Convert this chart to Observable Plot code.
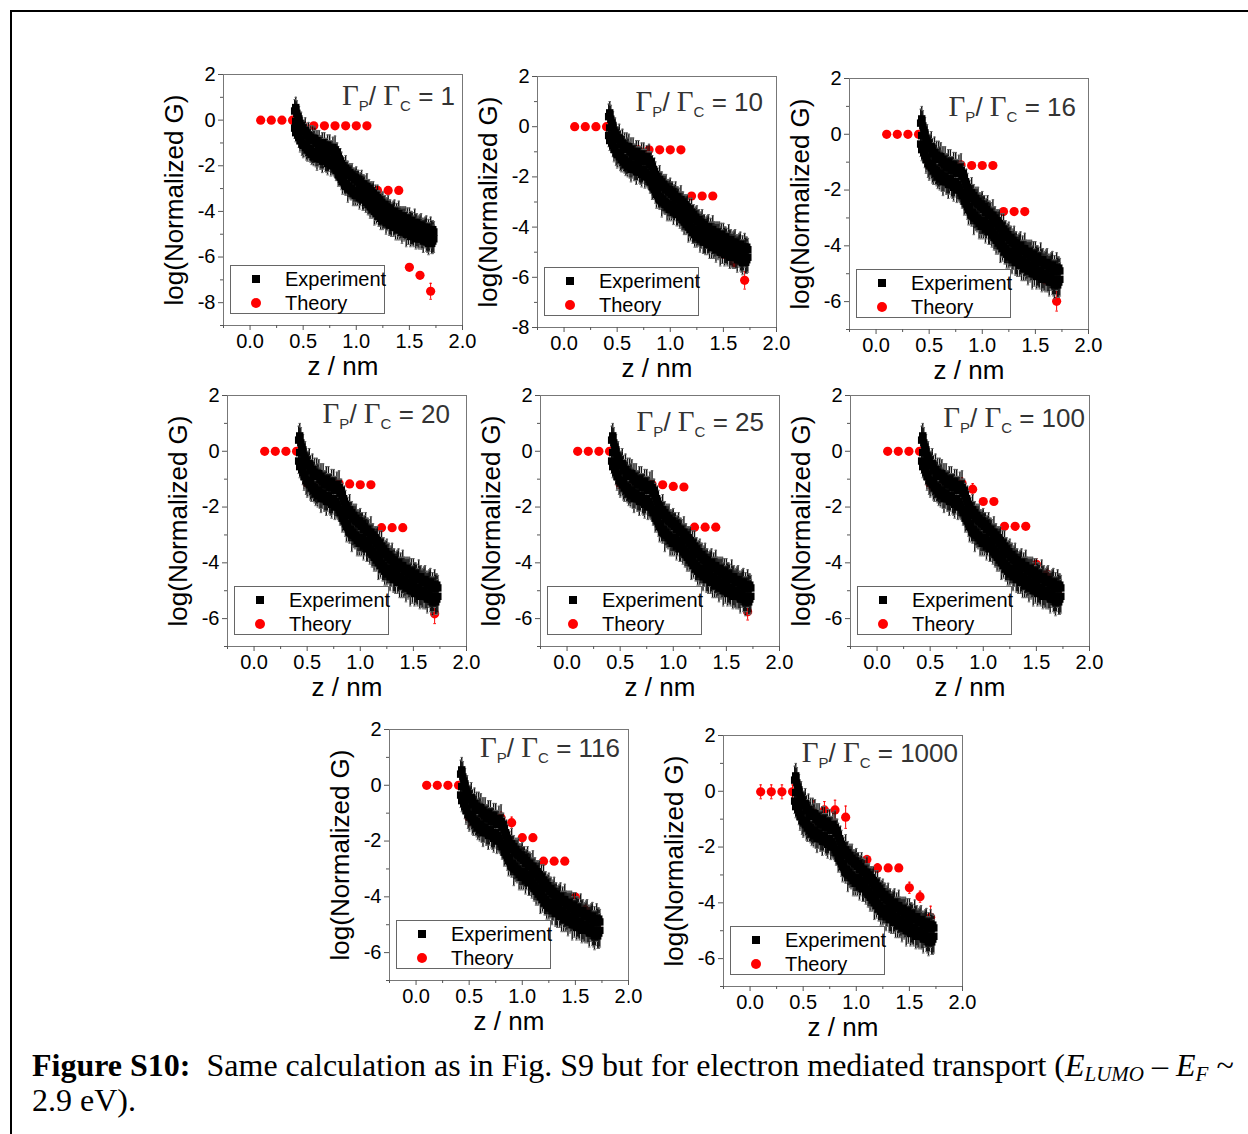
<!DOCTYPE html>
<html><head><meta charset="utf-8">
<script src="https://cdn.jsdelivr.net/npm/d3@7"></script>
<script src="https://cdn.jsdelivr.net/npm/@observablehq/plot@0.6"></script>
<style>
body{margin:0;background:#fff;}
#page{position:relative;width:1248px;height:1134px;overflow:hidden;font-family:"Liberation Sans",Arial,sans-serif;background:#fff;}
#frame{position:absolute;left:10px;top:10px;width:1300px;height:1200px;border-top:2px solid #000;border-left:2px solid #000;}
.panel{position:absolute;}
.panel svg{overflow:visible;}
.panel g[aria-label="y-axis label"], .panel g[aria-label="x-axis label"]{font-size:26px;}
.ann{position:absolute;white-space:nowrap;color:#333;font-size:26px;line-height:1;}
.ann .g{font-family:"Liberation Serif","Times New Roman",serif;font-size:29px;}
.ann .s{font-size:15px;position:relative;top:6px;}
.legend{position:absolute;width:153px;height:47px;border:1px solid #666;background:#fff;font-size:20px;color:#000;}
.legend .row{position:absolute;left:54px;line-height:1;}
.legend .sq{position:absolute;width:8px;height:8px;background:#000;}
.legend .ci{position:absolute;width:10px;height:10px;border-radius:50%;background:#f00;}
.caption{position:absolute;left:32px;top:1048px;font-family:"Liberation Serif","Times New Roman",serif;font-size:32px;line-height:35px;color:#000;white-space:nowrap;}
.caption sub{font-size:21px;vertical-align:-5px;line-height:0;}
</style>
</head><body>
<div id="page"><div id="frame"></div></div>
<script>
// ---------- data ----------
const ratios = [1, 10, 16, 20, 25, 100, 116, 1000];

const theoryZ = [0.1,0.2,0.3,0.4,0.5,0.6,0.7,0.8,0.9,1.0,1.1,1.2,1.3,1.4,1.5,1.6,1.7];

const theoryR1    = [0,0,0,0,-0.25,-0.25,-0.25,-0.25,-0.25,-0.25,-0.25,-3.08,-3.08,-3.08,-6.45,-6.80,-7.50];
const theoryR10   = [0,0,0,0,-0.92,-0.92,-0.92,-0.92,-0.92,-0.92,-0.92,-2.76,-2.76,-2.76,-5.07,-5.42,-6.12];
const theoryR16   = [0,0,0,0,-1.10,-1.10,-1.10,-1.10,-1.12,-1.12,-1.12,-2.77,-2.77,-2.77,-4.88,-5.24,-5.99];
const theoryR20   = [0,0,0,0,-1.15,-1.15,-1.15,-1.15,-1.17,-1.20,-1.20,-2.74,-2.74,-2.74,-4.73,-5.06,-5.83];
const theoryR25   = [0,0,0,0,-1.19,-1.19,-1.19,-1.19,-1.20,-1.26,-1.28,-2.72,-2.72,-2.72,-4.63,-4.99,-5.75];
const theoryR100  = [0,0,0,0,-1.18,-1.15,-1.15,-1.15,-1.36,-1.80,-1.80,-2.69,-2.69,-2.69,-4.05,-4.40,-5.11];
const theoryR116  = [0,0,0,0,-1.16,-1.16,-1.16,-1.16,-1.34,-1.88,-1.88,-2.72,-2.72,-2.72,-4.01,-4.45,-5.11];
const theoryR1000 = [-0.02,-0.02,-0.02,-0.02,-0.67,-0.79,-0.67,-0.67,-0.93,-2.49,-2.45,-2.75,-2.75,-2.75,-3.46,-3.78,-4.52];

const theoryErrR1    = [0,0,0,0,0,0,0,0,0,0,0,0,0,0,0,0,0.35];
const theoryErrR10   = [0,0,0,0,0,0,0,0,0,0,0,0,0,0,0.15,0.15,0.35];
const theoryErrR16   = [0,0,0,0,0,0,0,0,0,0,0,0,0,0,0.15,0.15,0.35];
const theoryErrR20   = [0,0,0,0,0.1,0.1,0.1,0.1,0,0,0,0.1,0,0,0.15,0.15,0.35];
const theoryErrR25   = [0,0,0,0,0.1,0.1,0.1,0.1,0,0,0,0,0,0,0.15,0.15,0.3];
const theoryErrR100  = [0,0,0,0,0.2,0.2,0.2,0.2,0.2,0,0,0,0,0,0.2,0.2,0.3];
const theoryErrR116  = [0,0,0,0,0.3,0.2,0.2,0.2,0.2,0,0,0.1,0,0,0.15,0.15,0.3];
const theoryErrR1000 = [0.25,0.25,0.25,0.25,0.4,0.45,0.3,0.35,0.4,0.15,0.15,0.15,0,0,0.2,0.2,0.4];

// experiment: [z (nm), log(normalized G), error]
const experiment = [
[0.42,0.40,0.50],[0.42,-0.35,0.45],[0.43,0.55,0.45],[0.43,-0.05,0.50],[0.43,-0.55,0.40],
[0.44,0.30,0.55],[0.44,-0.45,0.45],[0.45,0.15,0.50],[0.45,-0.65,0.40],[0.46,0.05,0.55],
[0.46,-0.75,0.45],[0.47,-0.15,0.40],[0.47,-0.90,0.50],[0.48,-0.25,0.60],[0.48,-0.85,0.45],
[0.49,-0.35,0.45],[0.49,-1.05,0.50],[0.50,-0.45,0.40],[0.50,-1.10,0.55],[0.51,-0.50,0.50],
[0.51,-1.05,0.45],[0.52,-0.45,0.55],[0.52,-1.20,0.40],[0.53,-0.60,0.45],[0.53,-1.15,0.60],
[0.54,-0.70,0.40],[0.54,-1.30,0.50],[0.55,-0.65,0.55],[0.55,-1.25,0.45],[0.56,-0.80,0.45],
[0.56,-1.40,0.40],[0.57,-0.75,0.50],[0.57,-1.30,0.55],[0.58,-0.90,0.40],[0.58,-1.50,0.45],
[0.59,-0.80,0.55],[0.59,-1.40,0.50],[0.60,-0.90,0.45],[0.60,-1.60,0.40],[0.61,-0.80,0.50],
[0.61,-1.40,0.45],[0.62,-1.00,0.40],[0.62,-1.50,0.55],[0.63,-0.90,0.45],[0.63,-1.70,0.50],
[0.64,-1.10,0.40],[0.64,-1.60,0.45],[0.65,-1.00,0.55],[0.65,-1.50,0.40],[0.66,-1.20,0.50],
[0.66,-1.70,0.45],[0.67,-1.10,0.40],[0.67,-1.60,0.55],[0.68,-1.00,0.45],[0.68,-1.80,0.50],
[0.69,-1.20,0.40],[0.69,-1.70,0.45],[0.70,-1.10,0.55],[0.70,-1.60,0.40],[0.71,-1.30,0.50],
[0.71,-1.80,0.45],[0.72,-1.20,0.40],[0.72,-1.70,0.60],[0.73,-1.10,0.45],[0.73,-1.90,0.50],
[0.74,-1.30,0.40],[0.74,-1.80,0.45],[0.75,-1.20,0.55],[0.75,-1.70,0.40],[0.76,-1.40,0.50],
[0.76,-2.00,0.45],[0.77,-1.30,0.40],[0.77,-1.80,0.55],[0.78,-1.20,0.45],[0.78,-1.90,0.50],
[0.79,-1.40,0.40],[0.79,-2.00,0.45],[0.80,-1.30,0.60],[0.80,-2.10,0.40],[0.81,-1.50,0.50],
[0.81,-2.20,0.45],[0.82,-1.40,0.40],[0.82,-2.10,0.55],[0.83,-1.60,0.45],[0.83,-2.40,0.50],
[0.84,-1.70,0.40],[0.84,-2.30,0.45],[0.85,-1.80,0.55],[0.85,-2.50,0.40],[0.86,-1.90,0.50],
[0.86,-2.60,0.45],[0.87,-2.00,0.40],[0.87,-2.70,0.55],[0.88,-2.10,0.45],[0.88,-2.60,0.50],
[0.89,-2.20,0.40],[0.89,-2.80,0.45],[0.90,-2.10,0.55],[0.90,-2.90,0.40],[0.91,-2.30,0.50],
[0.91,-2.80,0.45],[0.92,-2.20,0.40],[0.92,-3.00,0.60],[0.93,-2.40,0.45],[0.93,-2.90,0.50],
[0.94,-2.30,0.40],[0.94,-3.00,0.45],[0.95,-2.50,0.55],[0.95,-3.10,0.40],[0.96,-2.40,0.50],
[0.96,-3.00,0.45],[0.97,-2.50,0.40],[0.97,-3.20,0.55],[0.98,-2.60,0.45],[0.98,-3.10,0.50],
[0.99,-2.50,0.40],[0.99,-3.30,0.45],[1.00,-2.60,0.55],[1.00,-3.20,0.40],[1.01,-2.70,0.50],
[1.01,-3.30,0.45],[1.02,-2.60,0.40],[1.02,-3.10,0.55],[1.03,-2.80,0.45],[1.03,-3.40,0.50],
[1.04,-2.70,0.40],[1.04,-3.30,0.45],[1.05,-2.80,0.60],[1.05,-3.20,0.40],[1.06,-2.90,0.50],
[1.06,-3.50,0.45],[1.07,-2.80,0.40],[1.07,-3.40,0.55],[1.08,-2.90,0.45],[1.08,-3.30,0.50],
[1.09,-3.00,0.40],[1.09,-3.60,0.45],[1.10,-2.90,0.55],[1.10,-3.50,0.40],[1.11,-3.10,0.50],
[1.11,-3.70,0.45],[1.12,-3.00,0.40],[1.12,-3.60,0.55],[1.13,-3.20,0.45],[1.13,-3.80,0.50],
[1.14,-3.10,0.40],[1.14,-3.70,0.45],[1.15,-3.30,0.55],[1.15,-3.90,0.40],[1.16,-3.20,0.50],
[1.16,-3.80,0.45],[1.17,-3.40,0.40],[1.17,-4.00,0.60],[1.18,-3.30,0.45],[1.18,-3.90,0.50],
[1.19,-3.50,0.40],[1.19,-4.10,0.45],[1.20,-3.40,0.55],[1.20,-4.00,0.40],[1.21,-3.60,0.50],
[1.21,-4.20,0.45],[1.22,-3.50,0.40],[1.22,-4.10,0.55],[1.23,-3.70,0.45],[1.23,-4.30,0.50],
[1.24,-3.60,0.40],[1.24,-4.20,0.45],[1.25,-3.70,0.55],[1.25,-4.40,0.40],[1.26,-3.80,0.50],
[1.26,-4.30,0.45],[1.27,-3.70,0.40],[1.27,-4.20,0.55],[1.28,-3.90,0.45],[1.28,-4.50,0.50],
[1.29,-3.80,0.40],[1.29,-4.40,0.45],[1.30,-3.90,0.60],[1.30,-4.30,0.40],[1.31,-4.00,0.50],
[1.31,-4.60,0.45],[1.32,-3.90,0.40],[1.32,-4.50,0.55],[1.33,-4.10,0.45],[1.33,-4.60,0.50],
[1.34,-4.00,0.40],[1.34,-4.40,0.45],[1.35,-4.10,0.55],[1.35,-4.70,0.40],[1.36,-4.00,0.50],
[1.36,-4.60,0.45],[1.37,-4.20,0.40],[1.37,-4.70,0.55],[1.38,-4.10,0.45],[1.38,-4.50,0.50],
[1.39,-4.20,0.40],[1.39,-4.80,0.45],[1.40,-4.10,0.55],[1.40,-4.70,0.40],[1.41,-4.30,0.50],
[1.41,-4.80,0.45],[1.42,-4.20,0.40],[1.42,-4.60,0.60],[1.43,-4.30,0.45],[1.43,-4.90,0.50],
[1.44,-4.20,0.40],[1.44,-4.70,0.45],[1.45,-4.40,0.55],[1.45,-4.90,0.40],[1.46,-4.30,0.50],
[1.46,-4.80,0.45],[1.47,-4.40,0.40],[1.47,-5.00,0.55],[1.48,-4.30,0.45],[1.48,-4.70,0.50],
[1.49,-4.50,0.40],[1.49,-5.00,0.45],[1.50,-4.40,0.55],[1.50,-4.80,0.40],[1.51,-4.50,0.50],
[1.51,-5.10,0.45],[1.52,-4.40,0.40],[1.52,-4.90,0.55],[1.53,-4.50,0.45],[1.53,-5.00,0.50],
[1.54,-4.60,0.40],[1.54,-5.10,0.45],[1.55,-4.50,0.60],[1.55,-4.90,0.40],[1.56,-4.60,0.50],
[1.56,-5.20,0.45],[1.57,-4.50,0.40],[1.57,-5.00,0.55],[1.58,-4.70,0.45],[1.58,-5.10,0.50],
[1.59,-4.60,0.40],[1.59,-5.20,0.45],[1.60,-4.70,0.55],[1.60,-5.00,0.40],[1.61,-4.60,0.50],
[1.61,-5.20,0.45],[1.62,-4.70,0.40],[1.62,-5.10,0.55],[1.63,-4.80,0.45],[1.63,-5.30,0.50],
[1.64,-4.70,0.40],[1.64,-5.10,0.45],[1.65,-4.80,0.55],[1.65,-5.20,0.40],[1.66,-4.70,0.50],
[1.66,-5.30,0.45],[1.67,-4.90,0.40],[1.67,-5.20,0.60],[1.68,-4.80,0.45],[1.68,-5.40,0.50],
[1.69,-4.90,0.40],[1.69,-5.30,0.45],[1.70,-4.80,0.55],[1.70,-5.20,0.40],[1.71,-4.90,0.50],
[1.71,-5.40,0.45],[1.72,-4.80,0.40],[1.72,-5.30,0.55],[1.73,-4.90,0.45],[1.73,-5.20,0.60]
];

const xMajorTicks = [0, 0.5, 1.0, 1.5, 2.0];
const xMinorTicks = [-0.25, 0.25, 0.75, 1.25, 1.75];

// ---------- layout (plot-area positions on the page) ----------
const layout = [
  {theory: theoryR1,    err: theoryErrR1,    ymin: -9, left: 223, top: 74,  ann: [7, 12]},
  {theory: theoryR10,   err: theoryErrR10,   ymin: -8, left: 537, top: 76,  ann: [13, 16]},
  {theory: theoryR16,   err: theoryErrR16,   ymin: -7, left: 849, top: 78,  ann: [12, 19]},
  {theory: theoryR20,   err: theoryErrR20,   ymin: -7, left: 227, top: 395, ann: [16, 9]},
  {theory: theoryR25,   err: theoryErrR25,   ymin: -7, left: 540, top: 395, ann: [15, 17]},
  {theory: theoryR100,  err: theoryErrR100,  ymin: -7, left: 850, top: 395, ann: [4, 13]},
  {theory: theoryR116,  err: theoryErrR116,  ymin: -7, left: 389, top: 729, ann: [8, 9]},
  {theory: theoryR1000, err: theoryErrR1000, ymin: -7, left: 723, top: 735, ann: [4, 8]}
];
const PW = 239, PH = 251, ML = 80, MR = 10, MT = 10, MB = 70;
const CAP = 0.012;

const page = document.getElementById("page");

layout.forEach((cfg, idx) => {
  const th = theoryZ.map((z, i) => ({z, g: cfg.theory[i], e: cfg.err[i]}));
  const thErr = th.filter(d => d.e > 0);
  const yMajor = [], yMinor = [];
  for (let v = 2; v >= cfg.ymin; v--) (v % 2 === 0 ? yMajor : yMinor).push(v);

  const chart = Plot.plot({
    width: ML + PW + MR, height: MT + PH + MB,
    marginLeft: ML, marginRight: MR, marginTop: MT, marginBottom: MB,
    style: {fontFamily: '"Liberation Sans", Arial, sans-serif', background: "transparent", color: "#000"},
    x: {domain: [-0.25, 2.0], label: null},
    y: {domain: [cfg.ymin, 2], label: null},
    marks: [
      Plot.frame({stroke: "#777"}),
      Plot.axisX(xMinorTicks, {tickSize: 3, fill: "none", stroke: "#555"}),
      Plot.axisX(xMajorTicks, {tickSize: 5, tickPadding: 3, stroke: "#555", fontSize: 20,
        tickFormat: d => d.toFixed(1), label: "z / nm", labelAnchor: "center", labelArrow: "none", labelOffset: 49}),
      Plot.axisY(yMinor, {tickSize: 3, fill: "none", stroke: "#555"}),
      Plot.axisY(yMajor, {tickSize: 5, tickPadding: 3, stroke: "#555", fontSize: 20,
        tickFormat: d => String(d), label: "log(Normalized G)", labelAnchor: "center", labelArrow: "none", labelOffset: 59}),
      // theory
      Plot.ruleX(thErr, {x: "z", y1: d => d.g - d.e, y2: d => d.g + d.e, stroke: "#f00", strokeWidth: 1}),
      Plot.link(thErr, {x1: d => d.z - CAP, x2: d => d.z + CAP, y1: d => d.g + d.e, y2: d => d.g + d.e, stroke: "#f00"}),
      Plot.link(thErr, {x1: d => d.z - CAP, x2: d => d.z + CAP, y1: d => d.g - d.e, y2: d => d.g - d.e, stroke: "#f00"}),
      Plot.dot(th, {x: "z", y: "g", r: 4.6, fill: "#f00", stroke: "none"}),
      // experiment
      Plot.ruleX(experiment, {x: d => d[0], y1: d => d[1] - d[2], y2: d => d[1] + d[2], stroke: "#111", strokeWidth: 1.4}),
      Plot.link(experiment, {x1: d => d[0] - CAP, x2: d => d[0] + CAP, y1: d => d[1] + d[2], y2: d => d[1] + d[2], stroke: "#666"}),
      Plot.link(experiment, {x1: d => d[0] - CAP, x2: d => d[0] + CAP, y1: d => d[1] - d[2], y2: d => d[1] - d[2], stroke: "#666"}),
      Plot.dot(experiment, {x: d => d[0], y: d => d[1], symbol: "square", r: 4.2, fill: "#000", stroke: "none"})
    ]
  });

  const wrap = document.createElement("div");
  wrap.className = "panel";
  wrap.style.left = (cfg.left - ML) + "px";
  wrap.style.top = (cfg.top - MT) + "px";
  wrap.appendChild(chart);
  page.appendChild(wrap);

  // annotation
  const ann = document.createElement("div");
  ann.className = "ann";
  ann.innerHTML = `<span class="g">Γ</span><span class="s">P</span>/ <span class="g">Γ</span><span class="s">C</span> = ${ratios[idx]}`;
  ann.style.right = (1248 - (cfg.left + PW - cfg.ann[0])) + "px";
  ann.style.top = (cfg.top + cfg.ann[1] - 5) + "px";
  page.appendChild(ann);

  // legend
  const lg = document.createElement("div");
  lg.className = "legend";
  lg.style.left = (cfg.left + 7) + "px";
  lg.style.top = (cfg.top + PH - 12 - 48) + "px";
  lg.innerHTML = `<div class="sq" style="left:21px;top:9px"></div><div class="row" style="top:3px">Experiment</div>
                  <div class="ci" style="left:20px;top:32px"></div><div class="row" style="top:27px">Theory</div>`;
  page.appendChild(lg);
});

const cap = document.createElement("div");
cap.className = "caption";
cap.innerHTML = `<b>Figure S10:</b>&nbsp; Same calculation as in Fig. S9 but for electron mediated transport (<i>E<sub>LUMO</sub></i> – <i>E<sub>F</sub></i> ~<br>2.9 eV).`;
page.appendChild(cap);
</script>
</body></html>
